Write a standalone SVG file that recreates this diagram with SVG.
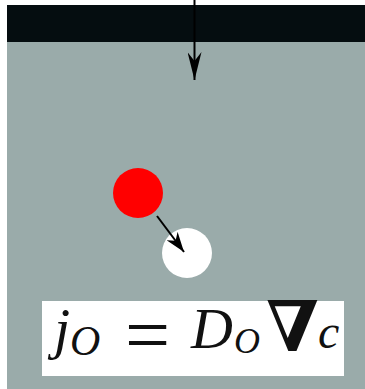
<svg xmlns="http://www.w3.org/2000/svg" width="365" height="389" viewBox="0 0 365 389">
<defs>
<marker id="ah" viewBox="0 0 20 14" refX="20" refY="7" markerWidth="20" markerHeight="14" markerUnits="userSpaceOnUse" orient="auto">
<path d="M0,0 L20,7 L0,14 L6,7 Z" fill="#000"/>
</marker>
<marker id="ah2" viewBox="0 0 28 14" refX="28" refY="7" markerWidth="28" markerHeight="14" markerUnits="userSpaceOnUse" orient="auto">
<path d="M0,0 L28,7 L0,14 L9,7 Z" fill="#000"/>
</marker>
<style>
.m{font-family:"Liberation Serif","DejaVu Serif",serif;font-style:italic;fill:#111}
.r{font-family:"Liberation Serif","DejaVu Serif",serif;fill:#111}
</style>
</defs>
<rect x="0" y="0" width="365" height="389" fill="#ffffff"/>
<g id="substrate">
<rect x="7" y="42" width="358" height="347" fill="#9aabaa"/>
</g>
<g id="surface">
<rect x="7" y="5" width="358" height="37" fill="#050d10"/>
</g>
<g id="red-atom"><circle cx="138" cy="193" r="25" fill="#ff0000"/></g>
<g id="vacancy"><circle cx="187" cy="253" r="25" fill="#ffffff"/></g>
<g id="connectors" stroke="#000" stroke-width="2" fill="none">
<line x1="194.5" y1="0" x2="194.5" y2="80" marker-end="url(#ah2)"/>
<line x1="157" y1="216" x2="184" y2="252" marker-end="url(#ah)"/>
</g>
<g id="formula">
<rect x="42" y="301" width="302" height="75" fill="#ffffff"/>
<text class="m" x="54" y="348" font-size="58">j</text>
<text class="m" x="70" y="355" font-size="42">O</text>
<text class="r" x="125" y="362" font-size="80">=</text>
<text class="m" x="191" y="348" font-size="58">D</text>
<text class="m" x="234" y="353" font-size="36">O</text>
<text x="266" y="351" font-size="70" font-family="'DejaVu Serif',serif" font-weight="bold" fill="#111">∇</text>
<text class="m" x="318" y="348" font-size="48">c</text>
</g>
</svg>
